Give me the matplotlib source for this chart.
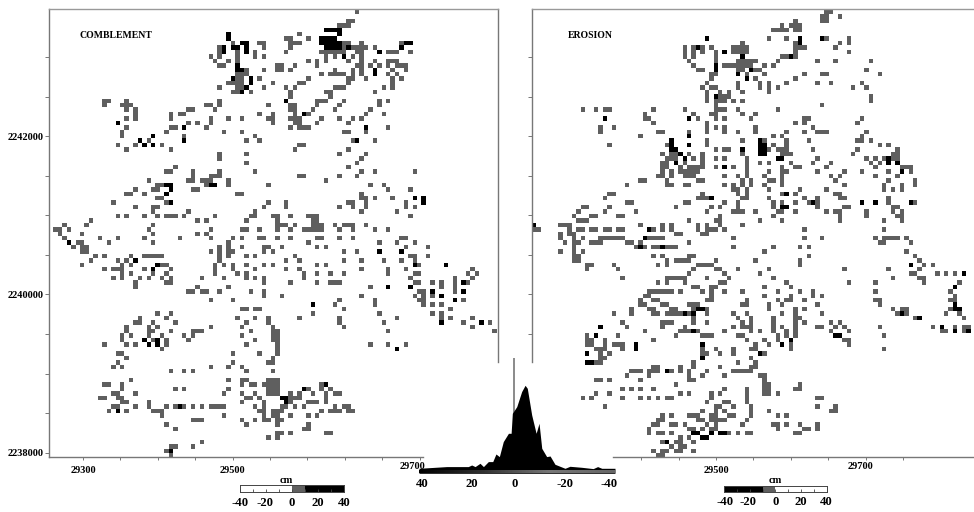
import matplotlib
matplotlib.use('Agg')
import matplotlib.pyplot as plt
import numpy as np
from matplotlib.colors import ListedColormap, LinearSegmentedColormap

plt.rcParams['font.family'] = ['Liberation Serif', 'DejaVu Serif']
plt.rcParams['font.weight'] = 'bold'

W = 974
H = 512
GRAY = '#5f5f5f'
LINE = '#777777'

# cells of each map, row number: column numbers
left_gray = {
    1: [69], 3: [67, 68], 4: [65, 66, 67], 5: [65], 6: [56],
    7: [53, 54, 58], 8: [41, 47, 48, 54, 55, 56, 66, 67, 70, 79],
    9: [38, 48, 54, 66, 68, 69, 70, 71, 73],
    10: [38, 42, 46, 53, 61, 62, 63, 64, 65, 66, 69, 70, 76, 77, 78, 81],
    11: [36, 38, 42, 46, 48, 62, 64, 68, 70],
    12: [37, 40, 42, 58, 60, 62, 67, 70, 73, 76, 77, 78],
    13: [38, 39, 51, 52, 55, 60, 69, 70, 72, 74, 76, 78, 79, 80],
    14: [44, 48, 51, 52, 54, 64, 68, 70, 77, 80],
    15: [42, 43, 44, 61, 63, 64, 65, 66, 68, 70, 76, 78],
    16: [42, 43, 47, 58, 67, 68, 71, 77, 79],
    17: [40, 41, 42, 43, 50, 56, 57, 67, 77],
    18: [38, 42, 43, 48, 53, 55, 64, 65, 66, 75, 77],
    19: [41, 42, 45, 54, 62, 63, 73], 20: [54, 63],
    21: [12, 13, 17, 38, 60, 61, 62, 66, 74, 76],
    22: [12, 16, 17, 18, 35, 36, 38, 49, 54, 55, 60, 65, 74],
    23: [17, 19, 31, 32, 37, 54, 55, 59, 64, 72],
    24: [19, 27, 29, 30, 47, 50, 55, 58, 71, 75],
    25: [17, 19, 27, 36, 40, 43, 49, 50, 54, 55, 56, 61, 65, 68, 70],
    26: [31, 33, 36, 50, 55, 56, 60, 67],
    27: [17, 27, 28, 35, 54, 56, 57, 58, 76],
    28: [16, 26, 39, 43, 66, 67, 71], 29: [16, 30, 46],
    30: [22, 44, 47, 68, 73], 31: [15, 19, 25, 56, 57], 32: [17, 27, 55, 67],
    33: [38, 44, 65, 71], 34: [38, 70], 35: [44, 69], 36: [28, 67],
    37: [26, 27, 32, 38, 46, 70, 73, 82], 38: [32, 36, 37, 38, 56, 57, 65, 69],
    39: [22, 31, 32, 34, 35, 36, 40, 62], 40: [24, 25, 35, 40, 49, 72, 75],
    41: [19, 23, 24, 32, 33, 76, 81], 42: [17, 18, 21, 42, 43, 70],
    43: [24, 25, 70, 71, 73, 77], 44: [14, 26, 49, 53, 67, 68, 71, 80],
    45: [19, 23, 24, 48, 53, 65, 68, 71, 80, 82], 46: [23, 31, 46, 70, 78],
    47: [15, 17, 21, 24, 26, 27, 28, 30, 37, 45, 46, 50, 51, 54, 58, 59, 60, 81],
    48: [9, 33, 35, 44, 51, 59, 60], 49: [3, 8, 23, 51, 52, 53, 55, 59, 60, 61, 64, 66, 67, 68, 71],
    50: [1, 2, 4, 22, 36, 43, 44, 47, 51, 54, 57, 58, 59, 60, 61, 65, 68, 73, 76],
    51: [2, 7, 23, 33, 35],
    52: [3, 11, 15, 21, 29, 36, 41, 43, 47, 48, 51, 54, 60, 61, 65, 68, 79, 80],
    53: [6, 7, 13, 23, 40, 58, 74, 78, 82],
    54: [5, 7, 8, 38, 40, 43, 48, 49, 52, 60, 62, 80, 85],
    55: [7, 8, 36, 38, 40, 41, 48, 50, 66, 69],
    56: [10, 12, 18, 21, 22, 23, 24, 25, 38, 40, 44, 46, 55, 81, 82, 85],
    57: [9, 15, 17, 38, 53, 56, 66, 70, 75, 79, 82],
    58: [7, 16, 18, 25, 26, 37, 39, 41, 44, 48, 50, 60, 62, 83],
    59: [12, 14, 15, 16, 21, 27, 37, 41, 46, 53, 56, 70, 76, 80, 95],
    60: [16, 18, 23, 26, 37, 42, 44, 57, 60, 63, 66, 76, 82, 83, 94, 96],
    61: [14, 16, 20, 22, 25, 27, 34, 39, 44, 46, 48, 57, 81, 91, 95],
    62: [19, 26, 27, 48, 54, 60, 63, 64, 65, 82, 83, 86, 88, 91, 94],
    63: [19, 33, 40, 72, 88, 91],
    64: [31, 32, 34, 35, 38, 45, 48, 83, 84, 91],
    65: [48, 52, 70, 82, 84, 86], 66: [36, 41, 65, 73, 83, 84, 93],
    67: [64, 73, 84, 86, 88], 68: [43, 44, 46, 47, 66, 90],
    69: [24, 27, 59, 74, 86, 88], 70: [20, 26, 42, 46, 49, 56, 65, 78, 88, 90, 95],
    71: [19, 20, 23, 28, 44, 49, 65, 75, 93, 99],
    72: [17, 22, 24, 36, 43, 50, 66, 95],
    73: [17, 22, 23, 27, 32, 33, 34, 45, 50, 51, 76, 100],
    74: [16, 18, 22, 25, 30, 32, 43, 50, 51],
    75: [16, 23, 26, 31, 46, 50, 51], 76: [12, 17, 19, 26, 44, 51, 72, 76, 80],
    77: [25, 51], 78: [15, 16, 41, 47, 51], 79: [17, 50],
    80: [15, 41, 49, 50], 81: [14, 16, 36, 40, 43], 82: [27, 30, 32, 44, 50],
    84: [18, 40, 43, 44, 49, 50, 51],
    85: [12, 13, 16, 43, 45, 46, 48, 49, 50, 51, 61],
    86: [16, 28, 30, 40, 49, 50, 51, 58, 61, 63],
    87: [14, 15, 19, 39, 43, 46, 49, 50, 51, 54, 56, 59, 62, 64, 65],
    88: [11, 12, 15, 16, 44, 45, 47, 54, 55, 56, 62],
    89: [16, 17, 22, 43, 48, 54, 58, 59, 60, 62],
    90: [14, 15, 19, 22, 26, 28, 30, 32, 34, 36, 37, 38, 39, 46, 48, 52, 53, 55, 57, 64, 66, 67],
    91: [13, 17, 23, 24, 25, 47, 48, 50, 51, 52, 61, 63, 64, 65, 67, 68],
    92: [25, 39, 48, 50, 51, 54, 58, 60],
    93: [32, 33, 34, 43, 46, 48, 49, 51, 52], 94: [26, 44, 51, 58],
    95: [28, 57, 58], 96: [51, 52, 54, 62, 63], 97: [49, 51], 98: [34],
    99: [27, 28, 32], 100: [26], 101: [27],
}
left_black = {
    5: [62, 63, 64, 65], 6: [40, 65], 7: [40, 61, 62, 63, 64],
    8: [43, 44, 61, 62, 63, 64, 65, 80, 81], 9: [39, 41, 42, 44, 62, 63, 64, 65, 67, 79],
    10: [39, 44, 74], 11: [66], 13: [42], 14: [42, 43, 73], 15: [73], 16: [41, 45],
    17: [45], 18: [44], 19: [43], 21: [53], 24: [57], 26: [15], 27: [30, 71],
    29: [23], 30: [20, 30, 69], 31: [21, 23], 40: [26, 27, 36, 37], 41: [27],
    42: [26], 43: [82, 84], 44: [27, 84], 53: [4], 55: [74, 79], 57: [19],
    58: [24, 82, 89], 59: [23], 62: [93], 63: [76, 81], 64: [86, 93], 65: [88],
    66: [91], 67: [59], 71: [88, 97], 75: [21, 24], 76: [22, 24], 77: [78],
    85: [62], 86: [57], 88: [52, 53], 89: [53], 90: [29], 91: [15], 100: [27],
}
right_gray = {
    1: [66, 67], 2: [65, 66, 69], 3: [59, 65, 66], 4: [56, 58, 59, 60],
    5: [54, 55, 56, 57, 59, 60], 7: [53, 57, 66, 71], 8: [47, 59, 69, 71],
    9: [34, 36, 38, 40, 45, 46, 47, 48, 59, 60, 61, 68],
    10: [34, 36, 38, 41, 45, 46, 47, 48, 59, 71], 11: [34, 36, 41, 56, 57, 59],
    12: [35, 41, 46, 47, 48, 49, 50, 55, 64, 68, 76],
    13: [36, 43, 44, 45, 46, 47, 48, 49, 52, 54],
    14: [37, 38, 46, 47, 50, 51, 75], 15: [40, 41, 48, 52, 61, 65, 66, 78],
    16: [40, 50, 59], 17: [39, 46, 51, 53, 57, 64, 67, 74],
    18: [38, 40, 41, 46, 51, 53, 55, 72, 75], 19: [39, 42, 44, 47, 53],
    20: [39, 42, 43, 44, 76], 21: [39, 41, 42, 43, 45, 47, 76], 22: [41, 65],
    23: [11, 14, 16, 17, 27, 34, 41, 42, 43, 46, 55],
    24: [25, 36, 40, 41, 47, 50], 25: [25, 26, 37, 41, 43, 49, 61, 62, 74],
    26: [27, 39, 59, 61, 73], 27: [15, 18, 39, 41, 43, 50, 63],
    28: [15, 28, 29, 35, 39, 43, 46, 50, 57, 61, 64, 65, 66, 75],
    29: [24, 54, 56, 74], 30: [39, 47, 52, 57, 62, 73, 74, 76],
    31: [17, 30, 39, 54, 57, 78, 80], 32: [41, 43, 44, 53, 55, 56, 57, 63, 73, 82],
    33: [29, 31, 32, 35, 38, 47, 52, 56, 57, 58, 72, 81, 82],
    34: [30, 31, 32, 36, 38, 41, 43, 48, 64, 75, 77, 79, 81, 82],
    35: [29, 30, 34, 38, 48, 51, 53, 58, 63, 67, 76, 78],
    36: [29, 30, 33, 35, 36, 37, 38, 41, 45, 48, 56, 59, 60, 66, 77, 83, 84, 85],
    37: [29, 31, 33, 34, 35, 36, 37, 48, 53, 56, 57, 64, 70, 74, 80, 85],
    38: [28, 29, 31, 34, 35, 36, 43, 46, 48, 52, 56, 67, 69, 77, 82],
    39: [24, 25, 30, 37, 38, 47, 49, 53, 54, 56, 68, 80, 86],
    40: [21, 30, 31, 34, 35, 43, 45, 47, 49, 52, 56, 70, 79, 83, 86],
    41: [45, 46, 48, 53, 60, 66, 79, 81, 83],
    42: [17, 18, 38, 46, 48, 56, 59, 68, 69],
    43: [16, 37, 38, 39, 47, 48, 53, 61, 64, 69, 70, 80],
    44: [21, 22, 34, 35, 43, 46, 54, 56, 59, 62, 64, 80, 86],
    45: [11, 12, 17, 32, 40, 42, 46, 54, 64, 70, 71, 81, 82],
    46: [10, 16, 23, 39, 45, 46, 47, 50, 55, 56, 59, 66, 68, 69, 75, 81, 83],
    47: [9, 13, 14, 19, 20, 42, 54, 69, 75, 82, 83],
    48: [10, 11, 12, 35, 41, 42, 51, 56, 69, 79, 83],
    49: [6, 7, 8, 24, 29, 31, 37, 39, 42, 47],
    50: [0, 1, 8, 10, 11, 13, 14, 16, 17, 19, 20, 27, 29, 31, 37, 39, 40, 41, 43, 61, 79],
    51: [6, 8, 9, 32, 33, 38, 39], 52: [6, 9, 11, 15, 16, 17, 18, 19, 20, 26, 27, 28, 29, 45, 61, 65, 77, 79, 80, 81, 82, 84],
    53: [7, 9, 10, 13, 14, 15, 21, 22, 24, 35, 78, 79, 85],
    54: [9, 23, 25, 27, 28, 30, 31, 32, 45, 54, 60, 62],
    55: [6, 9, 11, 52, 84], 56: [9, 10, 27, 29, 35, 36, 62, 86],
    57: [9, 10, 30, 32, 33, 34, 35, 41, 50, 60, 87],
    58: [12, 13, 18, 28, 30, 37, 38, 39, 40, 60, 88, 90],
    59: [12, 19, 36, 41, 42, 46, 53, 70, 80, 87],
    60: [35, 43, 51, 85, 86, 91, 93, 95],
    61: [20, 30, 31, 32, 33, 34, 39, 44, 54, 81, 87, 88],
    62: [28, 30, 34, 42, 43, 57, 71, 77, 88, 96],
    63: [36, 37, 40, 41, 52, 58], 64: [26, 27, 28, 29, 30, 31, 33, 38, 40, 43, 47, 55, 60, 63, 77, 94],
    65: [25, 26, 40, 52, 58, 63, 65, 95],
    66: [24, 27, 28, 39, 40, 48, 55, 57, 58, 61, 77, 78, 94, 95],
    67: [24, 25, 29, 30, 35, 36, 37, 47, 48, 53, 56, 64, 78],
    68: [22, 26, 27, 31, 32, 36, 39, 53, 59, 61, 81, 83, 84, 94],
    69: [18, 22, 27, 28, 30, 31, 32, 33, 35, 39, 45, 48, 56, 59, 65, 82, 84, 93, 96],
    70: [36, 46, 49, 54, 59, 60, 86, 97],
    71: [20, 29, 30, 31, 36, 39, 47, 49, 54, 59, 61, 67, 69],
    72: [21, 29, 34, 45, 47, 48, 49, 54, 56, 59, 64, 65, 68, 70, 78, 90, 95, 97, 98],
    73: [25, 33, 34, 35, 37, 43, 49, 51, 54, 57, 59, 67, 71, 92, 93, 97],
    74: [12, 19, 32, 38, 39, 40, 46, 47, 55, 57, 59, 79],
    75: [12, 13, 16, 27, 48, 52, 55, 70, 71],
    76: [12, 13, 16, 18, 19, 20, 50, 53, 58, 71], 77: [14, 15, 16, 20, 38, 41, 45, 49, 50, 58, 79],
    78: [15, 17, 38, 39, 42, 45, 52], 79: [15, 16, 49], 80: [14, 15, 36, 46, 50],
    81: [27, 28, 33, 36, 42, 49, 50],
    82: [22, 23, 24, 26, 27, 28, 31, 33, 35, 39, 45, 46, 47, 48, 49],
    83: [21, 26, 35, 38, 43, 51, 52], 84: [14, 15, 17, 24, 35, 36, 52],
    85: [32, 52, 53, 60], 86: [20, 22, 24, 27, 43, 48, 52, 53, 59, 60],
    87: [14, 17, 33, 35, 40, 42, 48, 52, 53, 55],
    88: [11, 13, 20, 24, 26, 28, 30, 31, 40, 48, 64, 65], 89: [39, 43, 44, 48],
    90: [16, 41, 42, 45, 49, 64, 68], 91: [38, 41, 43, 49, 53, 67, 68],
    92: [29, 31, 35, 36, 37, 40, 41, 44, 45, 49, 55, 57],
    93: [28, 29, 37, 38, 40, 41, 42, 43, 48], 94: [27, 28, 31, 32, 34, 39, 41, 47, 54, 55, 57, 60, 64],
    95: [26, 35, 36, 38, 40, 41, 55, 61, 62, 64],
    96: [26, 28, 29, 31, 36, 44, 46, 48, 49, 59, 60], 97: [33, 35],
    98: [29, 32, 33, 36], 99: [31, 33, 34], 100: [27, 29, 30, 32, 33, 36], 101: [28, 29],
}
right_black = {
    7: [39, 60, 65], 8: [60], 9: [37], 10: [43], 11: [47, 58], 13: [41], 14: [41, 49],
    15: [46], 16: [48], 20: [41], 25: [16, 35], 29: [35], 30: [31, 51], 31: [31, 35, 51, 52],
    32: [31, 32, 47, 51, 52], 33: [33, 51, 52], 34: [34, 55, 56, 80], 35: [32, 80, 82],
    36: [43], 37: [83], 42: [57], 43: [40], 44: [63, 74, 77, 85], 45: [56, 57], 49: [0],
    50: [26], 52: [25], 54: [24, 29], 58: [85], 60: [97], 63: [95], 67: [95],
    68: [37, 38, 95, 96], 69: [34, 36, 83], 70: [87], 72: [15, 92], 73: [36, 95, 98],
    74: [14, 68, 69], 75: [58], 76: [23, 38, 56], 77: [23], 78: [12, 51], 79: [38],
    80: [12, 13], 82: [30], 96: [36, 37, 40, 42, 43], 97: [38, 39], 98: [30],
}

# axes ticks
left_xticks = np.arange(29300, 29751, 50)
right_xticks = np.arange(29400, 29751, 50)
yticks = np.arange(2238000, 2243001, 500)
ytick_labels = {2238000: '2238000', 2240000: '2240000', 2242000: '2242000'}

# colour scale legends
left_scale_edges = [-40, 0, 10, 40]
left_scale_colors = ['white', GRAY, 'black']
right_scale_edges = [-40, -10, 0, 40]
right_scale_colors = ['black', GRAY, 'white']
scale_ticks = [-40, -20, 0, 20, 40]

# histogram of the differences
hist_x = [40, 28.7, 19.9, 18.5, 17.1, 15.1, 13.7, 11.7, 9.9, 8.6, 7.2, 5.6, 3.5, 2.4, 1.9,
          0.1, -1.9, -3.3, -4.2, -6, -7.8, -9, -10.1, -12.1, -13.5, -15.5, -19.6, -21.6,
          -26.4, -31.1, -32.9, -34.6, -40]
hist_y = [5, 6.7, 6.7, 8.3, 6.7, 10, 6.7, 11.7, 11.7, 19.3, 16.7, 31.7, 40, 40, 60,
          66.7, 81.7, 88, 85, 58.3, 40, 50, 25, 16.7, 17.3, 9, 5, 7, 6, 4.7, 6.7, 5, 5]
hist_spike_x = 1.2
hist_spike_y = 115
hist_labels = ['40', '20', '0', '-20', '-40']
hist_label_x = [38.8, 18.4, 0.8, -19.6, -37.6]


def make_grid(gray, black):
    grid = np.zeros((102, 102))
    for row, cols in gray.items():
        grid[row, cols] = 1
    for row, cols in black.items():
        grid[row, cols] = 2
    return grid


def px_axes(x0, y0, x1, y1):
    return fig.add_axes([x0 / W, 1 - y1 / H, (x1 - x0) / W, (y1 - y0) / H])


fig = plt.figure(figsize=(W / 100, H / 100), dpi=100)
cmap = ListedColormap(['white', GRAY, 'black'])

for name, gray, black, box, ref, ticks, cell0 in [
    ('left', left_gray, left_black, (49, 9, 498, 456.7), (29300, 83), left_xticks, 49.45),
    ('right', right_gray, right_black, (532.3, 9, 981, 456.7), (29500, 716), right_xticks, 532.1),
]:
    ax = px_axes(*box)
    to_x = lambda p: ref[0] + (p - ref[1]) * 50 / 37.4
    to_y = lambda p: 2238000 + (452.6 - p) * 500 / 39.55
    ax.imshow(make_grid(gray, black), cmap=cmap, vmin=0, vmax=2, interpolation='nearest',
              aspect='auto', origin='upper',
              extent=[to_x(cell0), to_x(cell0 + 102 * 4.43), to_y(5.45 + 102 * 4.43), to_y(5.45)])
    ax.set_xlim(to_x(box[0]), to_x(box[2]))
    ax.set_ylim(to_y(box[3]), to_y(box[1]))
    ax.patch.set_alpha(0)
    for s in ax.spines.values():
        s.set_color(LINE)
        s.set_linewidth(1.0)
    ax.spines['top'].set_color('#999999')
    ax.set_xticks(ticks)
    ax.tick_params(axis='x', length=2.5, width=0.7, color=LINE, pad=4, labelsize=7.5)
    ax.tick_params(axis='y', length=3, width=0.7, color=LINE, pad=1, labelsize=7.5)
    if name == 'left':
        ax.spines['right'].set_bounds(to_y(362), to_y(9))
        ax.spines['bottom'].set_bounds(to_x(49), to_x(423))
        ax.set_xticklabels(['29300' if t == 29300 else '29500' if t == 29500 else '' for t in ticks])
        ax.set_yticks(yticks)
        ax.set_yticklabels([ytick_labels.get(t, '') for t in yticks])
        ax.text(to_x(412), to_y(466.5), '29700', ha='center', va='center', fontsize=7.5, clip_on=False)
        ax.text(to_x(79), to_y(36), 'COMBLEMENT', ha='left', va='center', fontsize=7)
    else:
        ax.spines['right'].set_visible(False)
        ax.spines['left'].set_bounds(to_y(362), to_y(9))
        ax.spines['bottom'].set_bounds(to_x(613), to_x(981))
        ax.set_xticklabels(['29500' if t == 29500 else '' for t in ticks])
        ax.set_yticks(yticks[3:])
        ax.set_yticklabels([])
        ax.text(to_x(860), to_y(466.5), '29700', ha='center', va='center', fontsize=7.5, clip_on=False)
        ax.text(to_x(568), to_y(35), 'EROSION', ha='left', va='center', fontsize=7)

# colour scales
for box, edges, colors, label_at, cm_px in [
    ((240, 485, 344, 492), left_scale_edges, left_scale_colors,
     [-40, -20.5, 0, 19.5, 40], 286),
    ((724, 485.5, 826.7, 492), right_scale_edges, right_scale_colors,
     [-39, -21, 0, 20, 40], 775),
]:
    ax = px_axes(*box)
    for i, c in enumerate(colors):
        ax.barh(0, edges[i + 1] - edges[i], left=edges[i], height=1, color=c, edgecolor='none')
    ax.set_xlim(-40, 40)
    ax.set_ylim(-0.5, 0.5)
    ax.set_yticks([])
    ax.set_xticks(np.arange(-40, 41, 10))
    ax.set_xticklabels([])
    ax.tick_params(axis='x', direction='in', length=2, width=0.6, color='#444444')
    for s in ax.spines.values():
        s.set_color('#444444')
        s.set_linewidth(0.7)
    for v, t in zip(label_at, scale_ticks):
        ax.text(v, -2.0, str(t), ha='center', va='center', fontsize=9.2)
    ax.text((cm_px - box[0]) / (box[2] - box[0]) * 80 - 40, 1.2, 'cm', ha='center', va='center', fontsize=7.5)

# histogram in the middle
ax = px_axes(419, 358, 615, 473.3)
ax.patch.set_alpha(0)
ax.vlines(hist_spike_x, 0, hist_spike_y, color=LINE, linewidth=1.2, zorder=1)
ax.fill_between(hist_x, 0, hist_y, color='black', linewidth=0, zorder=2)
grad = LinearSegmentedColormap.from_list('bar', ['black', '#333333', '#777777', '#666666'])
ax.imshow(np.linspace(0, 1, 200).reshape(1, -1), cmap=grad, aspect='auto',
          extent=[40, -40, 0, 2.6], zorder=3)
ax.set_xlim(40, -40)
ax.set_ylim(0, 115.3)
ax.axis('off')
for v, t in zip(hist_label_x, hist_labels):
    ax.text(v, -10.7, t, ha='center', va='center', fontsize=9.2)

fig.savefig('out.png', dpi=100)
